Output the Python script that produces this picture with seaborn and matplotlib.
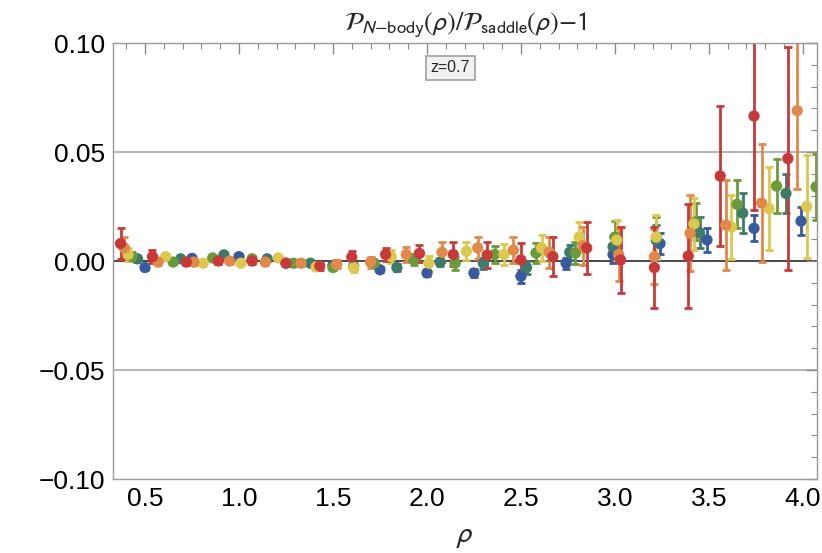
import numpy as np
import pandas as pd
import matplotlib
matplotlib.use("Agg")
import matplotlib.pyplot as plt
import seaborn as sns
from matplotlib.ticker import MultipleLocator, FuncFormatter

# series, drawn in this order (blue at the bottom, red on top)
series_names = ["s1", "s2", "s3", "s4", "s5", "s6"]
colors = ["#3a5a9e", "#3e7a6c", "#6a9a3c", "#dcc84e", "#e0894a", "#c83a3a"]

blue_x = [0.50, 0.75, 1.00, 1.25, 1.50, 1.75, 2.00, 2.25, 2.50, 2.74, 2.99, 3.24, 3.49, 3.74, 3.99]
blue_y = [-0.003, 0.0012, 0.002, -0.001, -0.002, -0.004, -0.0055, -0.0055, -0.007, -0.001, 0.003, 0.008, 0.0097, 0.015, 0.0183]
blue_e = [0.001, 0.001, 0.001, 0.001, 0.001, 0.0012, 0.0015, 0.002, 0.003, 0.0025, 0.004, 0.005, 0.0055, 0.006, 0.0065]

teal_x = [0.46, 0.69, 0.92, 1.15, 1.38, 1.61, 1.84, 2.07, 2.30, 2.53, 2.76, 2.99, 3.22, 3.45, 3.68, 3.91]
teal_y = [0.001, 0.001, 0.0028, 0.001, -0.001, -0.0025, -0.003, -0.0005, -0.001, -0.003, 0.004, 0.0065, 0.0096, 0.013, 0.022, 0.031]
teal_e = [0.0015, 0.001, 0.001, 0.001, 0.001, 0.0012, 0.0015, 0.002, 0.0025, 0.003, 0.0035, 0.005, 0.007, 0.007, 0.009, 0.009]

green_x = [0.43, 0.65, 0.86, 1.07, 1.29, 1.50, 1.72, 1.93, 2.15, 2.36, 2.58, 2.79, 3.00, 3.22, 3.43, 3.65, 3.86, 4.07]
green_y = [0.002, -0.0005, 0.0014, 0.001, -0.001, -0.003, -0.001, 0.0005, -0.001, 0.003, 0.0037, 0.0037, 0.011, 0.011, 0.018, 0.026, 0.0344, 0.034]
green_e = [0.002, 0.001, 0.001, 0.001, 0.001, 0.0012, 0.0015, 0.0025, 0.003, 0.004, 0.0045, 0.005, 0.0075, 0.009, 0.0085, 0.011, 0.0125, 0.015]

yellow_x = [0.41, 0.61, 0.81, 1.01, 1.21, 1.41, 1.61, 1.81, 2.01, 2.21, 2.41, 2.61, 2.81, 3.01, 3.22, 3.42, 3.62, 3.82, 4.02]
yellow_y = [0.003, 0.002, -0.001, -0.001, 0.0014, -0.0027, -0.003, 0.002, -0.001, 0.0045, 0.003, 0.006, 0.011, 0.0096, 0.011, 0.017, 0.0156, 0.024, 0.025]
yellow_e = [0.003, 0.0012, 0.001, 0.001, 0.0012, 0.0014, 0.002, 0.003, 0.0035, 0.004, 0.005, 0.006, 0.007, 0.009, 0.01, 0.012, 0.0145, 0.019, 0.0235]

orange_x = [0.39, 0.57, 0.76, 0.95, 1.14, 1.33, 1.52, 1.70, 1.89, 2.08, 2.27, 2.46, 2.65, 2.83, 3.02, 3.21, 3.40, 3.59, 3.78, 3.97]
orange_y = [0.006, -0.0005, -0.0005, 0.0, -0.0005, -0.001, -0.0015, -0.0005, 0.003, 0.004, 0.006, 0.005, 0.004, 0.007, 0.003, 0.002, 0.0127, 0.0165, 0.0266, 0.069]
orange_e = [0.005, 0.0015, 0.0012, 0.0012, 0.0013, 0.0015, 0.0018, 0.0025, 0.0035, 0.0046, 0.005, 0.006, 0.007, 0.0087, 0.012, 0.0125, 0.0175, 0.0206, 0.027, 0.036]

red_x = [0.37, 0.54, 0.72, 0.89, 1.07, 1.25, 1.43, 1.60, 1.78, 1.96, 2.14, 2.32, 2.50, 2.67, 2.85, 3.03, 3.21, 3.39, 3.56, 3.74, 3.92]
red_y = [0.008, 0.002, -0.0005, 0.0, 0.0, -0.001, -0.0023, 0.0018, 0.003, 0.0035, 0.003, 0.0027, 0.0005, 0.002, 0.006, 0.0005, -0.003, 0.0023, 0.039, 0.0665, 0.047]
red_e = [0.007, 0.003, 0.0015, 0.0015, 0.0015, 0.0015, 0.002, 0.003, 0.003, 0.004, 0.0055, 0.006, 0.0078, 0.009, 0.0118, 0.015, 0.0186, 0.024, 0.032, 0.043, 0.051]

xs = [blue_x, teal_x, green_x, yellow_x, orange_x, red_x]
ys = [blue_y, teal_y, green_y, yellow_y, orange_y, red_y]
es = [blue_e, teal_e, green_e, yellow_e, orange_e, red_e]

frames = []
for name, x, y, e in zip(series_names, xs, ys, es):
    frames.append(pd.DataFrame({"rho": x, "val": y, "err": e, "series": name}))
df = pd.concat(frames, ignore_index=True)

sns.set_theme(style="white")
plt.rcParams["font.family"] = ["Liberation Sans", "DejaVu Sans"]
plt.rcParams["mathtext.fontset"] = "stixsans"

fig = plt.figure(figsize=(8.22, 5.53), dpi=100)
ax = fig.add_axes([0.1375, 0.1338, 0.8564, 0.7884])

# reference lines
for yv in [0.05, -0.05]:
    ax.axhline(yv, color="#a8a8a8", lw=1.2, zorder=0)
ax.axhline(0.0, color="#3a3a3a", lw=1.3, zorder=0)

# error bars then points, series by series
for name, col in zip(series_names, colors):
    d = df[df["series"] == name]
    ax.errorbar(d["rho"], d["val"], yerr=d["err"], fmt="none", ecolor=col,
                elinewidth=2.0, capsize=3.2, capthick=2.0, zorder=2)
    sns.scatterplot(data=d, x="rho", y="val", color=col, s=66, edgecolor="none",
                    ax=ax, zorder=3, legend=False)

ax.set_xlim(0.33, 4.075)
ax.set_ylim(-0.10, 0.10)
ax.xaxis.set_major_locator(MultipleLocator(0.5))
ax.xaxis.set_minor_locator(MultipleLocator(0.1))
ax.yaxis.set_major_locator(MultipleLocator(0.05))
ax.yaxis.set_minor_locator(MultipleLocator(0.01))
ax.xaxis.set_major_formatter(FuncFormatter(lambda v, p: f"{v:.1f}"))
ax.yaxis.set_major_formatter(FuncFormatter(lambda v, p: f"{v:.2f}".replace("-", "\u2212")))
ax.tick_params(which="both", direction="in", top=True, right=True, color="#8a8a8a",
               labelsize=19, labelcolor="black", pad=6)
ax.tick_params(which="major", length=8, width=1)
ax.tick_params(which="minor", length=4, width=0.8)
for sp in ax.spines.values():
    sp.set_color("#9a9a9a")
    sp.set_linewidth(1.0)

ax.set_xlabel(r"$\rho$", fontsize=21, labelpad=8)
ax.set_ylabel("")
ax.set_title(r"$\mathcal{P}_{N\mathrm{-body}}(\rho)/\mathcal{P}_{\mathrm{saddle}}(\rho)\mathrm{-}1$",
             fontsize=19, pad=9)

ax.text(0.479, 0.943, "z=0.7", transform=ax.transAxes, fontsize=11.5,
        ha="center", va="center",
        bbox=dict(boxstyle="square,pad=0.3", facecolor="#f2f2f2", edgecolor="#a0a0a0", lw=1.2))

fig.savefig("out.png", dpi=100)
